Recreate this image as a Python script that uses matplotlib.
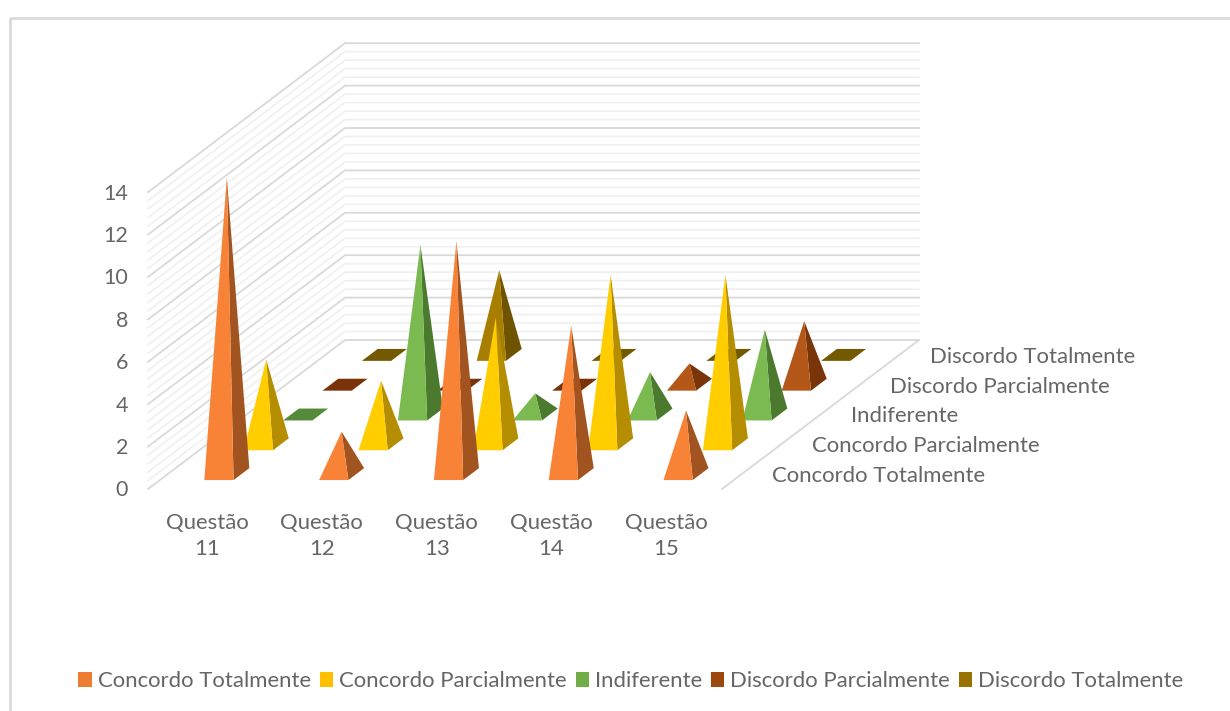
import matplotlib
matplotlib.use("Agg")
import matplotlib.pyplot as plt
from matplotlib.patches import Polygon, Patch, Rectangle

plt.rcParams['font.family'] = ['Lato', 'DejaVu Sans']

questions = ['Questão\n11', 'Questão\n12', 'Questão\n13', 'Questão\n14', 'Questão\n15']
series_names = ['Concordo Totalmente', 'Concordo Parcialmente', 'Indiferente',
                'Discordo Parcialmente', 'Discordo Totalmente']

concordo_total = [14, 2, 11, 7, 3]
concordo_parcial = [4, 3, 6, 8, 8]
indiferente = [0, 8, 1, 2, 4]
discordo_parcial = [0, 0, 0, 1, 3]
discordo_total = [0, 4, 0, 0, 0]
all_series = [concordo_total, concordo_parcial, indiferente, discordo_parcial, discordo_total]

value_ticks = [0, 2, 4, 6, 8, 10, 12, 14]

legend_colors = ['#ED7D31', '#FFC000', '#70AD47', '#9E480E', '#997300']
front_colors = ['#F88336', '#FFCD00', '#7ABA50', '#B4581A', '#A87E00']
side_colors = ['#A1541F', '#B58D00', '#4B7A2F', '#793409', '#6E5300']
flat_colors = ['#A1541F', '#B58D00', '#558A3B', '#7A3309', '#735A00']

TEXT = '#666666'
MAJOR = '#D9D9D9'
MINOR = '#F0F0F0'
FS = 15.9

# oblique projection of the Excel 3D chart, in figure pixels
X0, Y0 = 148.0, 489.0
CAT_W = 114.8
DEPTH_X, DEPTH_Y = 39.4, 29.8
UNIT = 21.2
PYR_W = 0.255
PYR_D = 0.40
CAT_SHIFT = 0.015  # columns sit a little right of the category centre


def project(cat, depth, value):
    return (X0 + cat * CAT_W + depth * DEPTH_X,
            Y0 - depth * DEPTH_Y - value * UNIT)


fig = plt.figure(figsize=(12.3, 7.11), dpi=100)
ax = fig.add_axes([0, 0, 1, 1])
ax.set_xlim(0, 1230)
ax.set_ylim(711, 0)
ax.axis('off')

# chart frame, runs off the right and bottom of the picture
ax.add_patch(Rectangle((10, 17.5), 1300, 800, fill=False, ec='#DADADA', lw=2))

ncat = len(questions)
nser = len(series_names)
vmax = value_ticks[-1]

# walls: 4 minor lines between two majors
steps = (len(value_ticks) - 1) * 5
for i in range(steps + 1):
    v = i * vmax / steps
    major = i % 5 == 0
    col = MAJOR if major else MINOR
    lw = 1.3 if major else 1.2
    xs = [project(0, 0, v)[0], project(0, nser, v)[0], project(ncat, nser, v)[0]]
    ys = [project(0, 0, v)[1], project(0, nser, v)[1], project(ncat, nser, v)[1]]
    ax.plot(xs, ys, color=col, lw=lw, zorder=1 if not major else 2)

# right edge of the floor
p1 = project(ncat, 0, 0)
p2 = project(ncat, nser, 0)
ax.plot([p1[0], p2[0]], [p1[1], p2[1]], color=MAJOR, lw=1.3, zorder=2)

# pyramids, back row first
z = 3
for s in range(nser - 1, -1, -1):
    for c in range(ncat):
        val = all_series[s][c]
        cx, dz = c + 0.5 + CAT_SHIFT, s + 0.5
        fl = project(cx - PYR_W / 2, dz - PYR_D / 2, 0)
        fr = project(cx + PYR_W / 2, dz - PYR_D / 2, 0)
        br = project(cx + PYR_W / 2, dz + PYR_D / 2, 0)
        bl = project(cx - PYR_W / 2, dz + PYR_D / 2, 0)
        if val == 0:
            ax.add_patch(Polygon([fl, fr, br, bl], closed=True, fc=flat_colors[s], ec='none', zorder=z))
        else:
            apex = project(cx, dz, val)
            ax.add_patch(Polygon([fr, br, apex], closed=True, fc=side_colors[s], ec='none', zorder=z))
            ax.add_patch(Polygon([fl, fr, apex], closed=True, fc=front_colors[s], ec='none', zorder=z + 1))
        z += 2

# value axis labels
for v in value_ticks:
    x, y = project(0, 0, v)
    ax.text(x - 20, y + 1.5, str(v), ha='right', va='center', fontsize=15.5, color=TEXT)

# category labels
for c, q in enumerate(questions):
    x, y = project(c + 0.5 + CAT_SHIFT, 0, 0)
    ax.text(x, y + 47, q, ha='center', va='center', fontsize=FS, color=TEXT, linespacing=1.42)

# depth axis labels
for s, name in enumerate(series_names):
    x, y = project(ncat, s + 0.5, 0)
    ax.text(x + 30.5, y + 2, name, ha='left', va='center', fontsize=FS, color=TEXT)

handles = [Patch(fc=col, ec='none', label=name) for col, name in zip(legend_colors, series_names)]
ax.legend(handles=handles, ncols=5, loc='center', bbox_to_anchor=(631 / 1230, 1 - 681 / 711),
          frameon=False, fontsize=FS, labelcolor=TEXT, handlelength=0.6, handleheight=0.7,
          handletextpad=0.27, columnspacing=0.41, borderpad=0, borderaxespad=0)

fig.savefig('out.png', dpi=100)
